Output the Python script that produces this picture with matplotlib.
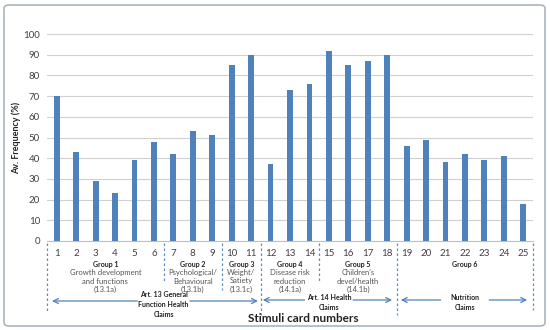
import matplotlib
matplotlib.use("Agg")
import matplotlib.pyplot as plt
from matplotlib.transforms import blended_transform_factory
from matplotlib.patches import FancyBboxPatch

plt.rcParams['font.family'] = ['Lato', 'DejaVu Sans']

# data
cards = list(range(1, 26))
freq = [70, 43, 29, 23, 39, 48, 42, 53, 51, 85, 90, 37, 73, 76, 92, 85, 87, 90,
        46, 49, 38, 42, 39, 41, 18]

groups = [
    # (center x, [lines])
    (3.5, ["Group 1", "Growth development", "and functions", "(13.1a)"]),
    (8.0, ["Group 2", "Psychological/", "Behavioural", "(13.1b)"]),
    (10.5, ["Group 3", "Weight/", "Satiety", "(13.1c)"]),
    (13.0, ["Group 4", "Disease risk", "reduction", "(14.1a)"]),
    (16.5, ["Group 5", "Children's", "devel/health", "(14.1b)"]),
    (22.0, ["Group 6"]),
]
claims = [
    # (center, text, arrow left end, arrow right end)
    (6.5, "Art. 13 General\nFunction Health\nClaims", 0.76, 11.35),
    (15.0, "Art. 14 Health\nClaims", 11.6, 18.25),
    (22.0, "Nutrition\nClaims", 18.7, 25.2),
]
# separators: x position, bottom in pixels
seps = [(0.5, 311), (6.5, 283), (9.5, 290), (11.5, 315), (14.5, 282), (18.5, 315), (25.5, 310)]

W, H = 550, 330
fig = plt.figure(figsize=(W / 100, H / 100), dpi=100)
ax = fig.add_axes([47 / W, 1 - 241 / H, (533 - 47) / W, (241 - 34) / H])

ax.bar(cards, freq, width=0.3, color='#4f81bd', zorder=3)
ax.set_xlim(0.5, 25.5)
ax.set_ylim(0, 100)
ax.set_yticks(range(0, 101, 10))
ax.set_xticks(cards)
ax.tick_params(axis='both', length=0, labelsize=7, colors='#404040', pad=6)
ax.tick_params(axis='y', pad=5)
ax.grid(axis='y', color='#d0d0d0', linewidth=0.8, zorder=0)
for s in ['top', 'right', 'left']:
    ax.spines[s].set_visible(False)
ax.spines['bottom'].set_color('#c0c0c0')

ax.set_ylabel("Av. Frequency (%)", fontsize=6.5, fontweight='bold', color='#222222')
ax.yaxis.set_label_coords(-(47 - 21) / (533 - 47), 0.5)

tr = blended_transform_factory(ax.transData, fig.transFigure)

def fy(p):
    return 1 - p / H

sep_col = '#5b8bc9'
for x, bot in seps:
    ax.plot([x, x], [fy(243), fy(bot)], transform=tr, clip_on=False,
            color=sep_col, linestyle=(0, (2, 2)), linewidth=0.9)

for cx, lines in groups:
    ax.text(cx, fy(264), lines[0], transform=tr, ha='center', va='center',
            fontsize=5, fontweight='bold', color='#222222')
    for i, t in enumerate(lines[1:]):
        ax.text(cx, fy(272.5 + 8.5 * i), t, transform=tr, ha='center', va='center',
                fontsize=5.5, color='#555555')

arr_col = '#4f81bd'
for cx, txt, xl, xr in claims:
    nl = txt.count("\n") + 1
    ty = 304.5 if nl == 3 else 302
    ax.text(cx, fy(ty), txt, transform=tr, ha='center', va='center',
            fontsize=5, fontweight='bold', color='#222222', linespacing=1.5)
    half = 1.35 if nl == 3 else 1.25
    ay = fy(301) if nl == 3 else fy(300)
    for end, start in [(xl, cx - half), (xr, cx + half)]:
        ax.annotate("", xy=(end, ay), xytext=(start, ay), xycoords=tr, textcoords=tr,
                    arrowprops=dict(arrowstyle='->', color=arr_col, lw=0.9,
                                    mutation_scale=9, shrinkA=0, shrinkB=0))

fig.text(303 / W, fy(318), "Stimuli card numbers", ha='center', va='center',
         fontsize=8.5, fontweight='bold', color='#222222')

frame = FancyBboxPatch((4 / W, 4 / H), 541 / W, 321 / H, boxstyle='round,pad=0,rounding_size=0.01',
                       transform=fig.transFigure, facecolor='none', edgecolor='#a9b4c4', linewidth=1.2)
fig.patches.append(frame)

fig.savefig("out.png", dpi=100)
